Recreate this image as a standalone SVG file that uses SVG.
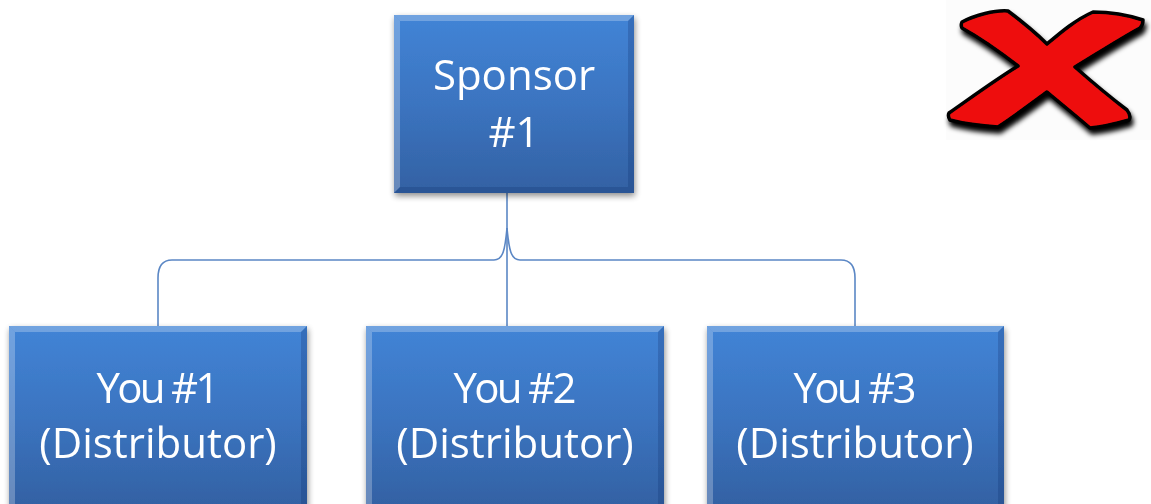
<svg xmlns="http://www.w3.org/2000/svg" width="1151" height="504" viewBox="0 0 1151 504">
<defs>
<linearGradient id="boxg" x1="0" y1="0" x2="0" y2="1">
<stop offset="0" stop-color="#4284d6"/>
<stop offset="0.5" stop-color="#3b74c0"/>
<stop offset="1" stop-color="#3361a3"/>
</linearGradient>
<filter id="sh" x="-10%" y="-10%" width="125%" height="130%">
<feGaussianBlur in="SourceAlpha" stdDeviation="3"/>
<feOffset dx="1" dy="3" result="b"/>
<feComponentTransfer><feFuncA type="linear" slope="0.45"/></feComponentTransfer>
<feMerge><feMergeNode/><feMergeNode in="SourceGraphic"/></feMerge>
</filter>
<filter id="xsh" x="-10%" y="-10%" width="125%" height="130%">
<feGaussianBlur in="SourceAlpha" stdDeviation="2.5"/>
<feOffset dx="2" dy="5"/>
<feComponentTransfer><feFuncA type="linear" slope="1"/></feComponentTransfer>
<feMerge><feMergeNode/><feMergeNode in="SourceGraphic"/></feMerge>
</filter>
</defs>
<style>
.box{fill:url(#boxg);}
.hi{fill:#ffffff;opacity:0.25;}
.lo{fill:#10306a;opacity:0.25;}
.t{font-family:"Open Sans","Liberation Sans",sans-serif;font-size:42px;fill:#ffffff;text-anchor:middle;}
.c{fill:none;stroke:#5b87c5;stroke-width:1.6;}
</style>
<rect x="0" y="0" width="1151" height="504" fill="#ffffff"/>

<g id="connectors">
<path class="c" d="M507,193 L507,327"/>
<path class="c" d="M158,327 L158,278 C158,266 162,260 172,260 L494,260 C503,260 505,250 507,228"/>
<path class="c" d="M855,327 L855,278 C855,266 851,260 841,260 L520,260 C511,260 509,250 507,228"/>
</g>

<g id="sponsor" filter="url(#sh)">
<rect class="box" x="394" y="15" width="240" height="178"/>
<polygon class="hi" points="394,15 634,15 628,21 400,21"/>
<polygon class="hi" points="394,15 400,21 400,187 394,193"/>
<polygon class="lo" points="634,15 634,193 628,187 628,21"/>
<polygon class="lo" points="394,193 634,193 628,187 400,187"/>
<text class="t" x="514" y="90">Sponsor</text>
<text class="t" x="514" y="147">#1</text>
</g>

<g id="you1" filter="url(#sh)">
<rect class="box" x="9" y="326" width="298" height="182"/>
<polygon class="hi" points="9,326 307,326 301,332 15,332"/>
<polygon class="hi" points="9,326 15,332 15,508 9,508"/>
<polygon class="lo" points="307,326 307,508 301,508 301,332"/>
<text class="t" x="158" y="403" textLength="123" lengthAdjust="spacing">You #1</text>
<text class="t" x="158" y="458">(Distributor)</text>
</g>

<g id="you2" filter="url(#sh)">
<rect class="box" x="366" y="326" width="298" height="182"/>
<polygon class="hi" points="366,326 664,326 658,332 372,332"/>
<polygon class="hi" points="366,326 372,332 372,508 366,508"/>
<polygon class="lo" points="664,326 664,508 658,508 658,332"/>
<text class="t" x="515" y="403" textLength="123" lengthAdjust="spacing">You #2</text>
<text class="t" x="515" y="458">(Distributor)</text>
</g>

<g id="you3" filter="url(#sh)">
<rect class="box" x="707" y="326" width="297" height="182"/>
<polygon class="hi" points="707,326 1004,326 998,332 713,332"/>
<polygon class="hi" points="707,326 713,332 713,508 707,508"/>
<polygon class="lo" points="1004,326 1004,508 998,508 998,332"/>
<text class="t" x="855" y="403" textLength="123" lengthAdjust="spacing">You #3</text>
<text class="t" x="855" y="458">(Distributor)</text>
</g>

<g id="xmark">
<rect x="946" y="0" width="205" height="140" fill="#fcfcfc"/>
<path filter="url(#xsh)" fill="#ee1111" stroke="#000000" stroke-width="3.5" stroke-linejoin="round"
d="M962,22 C975,15 995,10 1008,11 C1020,20 1035,32 1047,44 C1060,33 1075,20 1093,12 C1110,12 1128,15 1143,20 C1143,24 1142,26 1140,28 C1118,40 1095,55 1075,67 C1092,82 1110,97 1127,110 C1130,114 1131,117 1129,120 C1115,124 1102,127 1090,128 C1075,115 1060,103 1047,92 C1032,103 1015,116 998,127 C982,126 965,124 950,120 C948,117 948,115 949,113 C972,97 995,80 1018,66 C1000,52 980,38 962,28 C961,26 961,24 962,22 Z"/>
</g>
</svg>
